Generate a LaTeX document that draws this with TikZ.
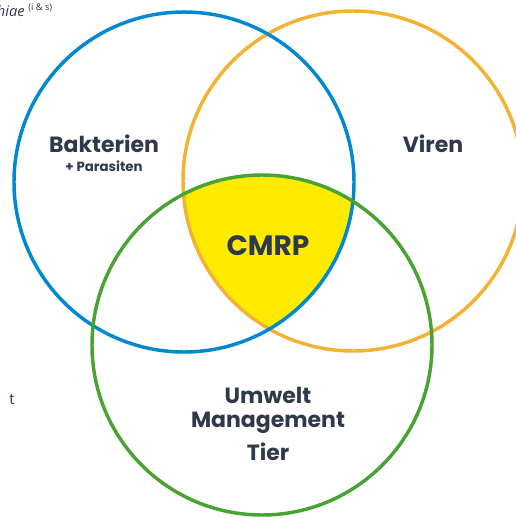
\documentclass[tikz,border=0pt]{standalone}
\usepackage{fontspec}
\setmainfont{Open Sans}
\setsansfont{Poppins}
\usepackage{tikz}

\definecolor{bakblue}{RGB}{0,137,207}
\definecolor{virorange}{RGB}{244,178,53}
\definecolor{umwgreen}{RGB}{72,163,50}
\definecolor{cmrpyellow}{RGB}{255,235,0}
\definecolor{labelgray}{RGB}{46,58,75}

\tikzset{
  ring/.style={line width=2.6pt},
  biglabel/.style={font=\sffamily\bfseries\fontsize{16.5}{19}\selectfont, text=labelgray, align=center, inner sep=0pt},
  smalllabel/.style={font=\sffamily\bfseries\fontsize{10}{12}\selectfont, text=labelgray, inner sep=0pt},
  sidetext/.style={font=\fontsize{11.5}{13}\selectfont, text=labelgray, inner sep=0pt}
}

\begin{document}
\begin{tikzpicture}[x=0.75pt,y=-0.75pt]
  \useasboundingbox (0,0) rectangle (516,518);

  % the common part of all three sets
  \begin{scope}
    \clip (184,182) circle (170);
    \clip (353,181) circle (170);
    \fill[cmrpyellow] (262,345) circle (170);
  \end{scope}

  % the three sets
  \draw[ring, virorange] (353,181) circle (170);
  \draw[ring, bakblue] (184,182) circle (170);
  \draw[ring, umwgreen] (262,345) circle (170);

  % labels
  \node[biglabel] (bakterien) at (104,144) {Bakterien};
  \node[smalllabel] (parasiten) at (104,166) {+ Parasiten};
  \node[biglabel] (viren) at (433,144) {Viren};
  \node[biglabel, font=\sffamily\bfseries\fontsize{21}{24}\selectfont] (cmrp) at (268,246) {CMRP};
  \node[biglabel] (umwelt) at (268,395) {Umwelt};
  \node[biglabel] (management) at (268,423) {Management};
  \node[biglabel] (tier) at (268,452) {Tier};

  % text running in from the left
  \node[sidetext, anchor=base east, font=\itshape\fontsize{11}{12}\selectfont] (hiae) at (25,16) {hiae};
  \node[sidetext, anchor=base west, font=\fontsize{7}{8}\selectfont] (ius) at (28,10) {(i \& s)};
  \node[sidetext, anchor=base east] (tword) at (15,404) {t};
\end{tikzpicture}
\end{document}
